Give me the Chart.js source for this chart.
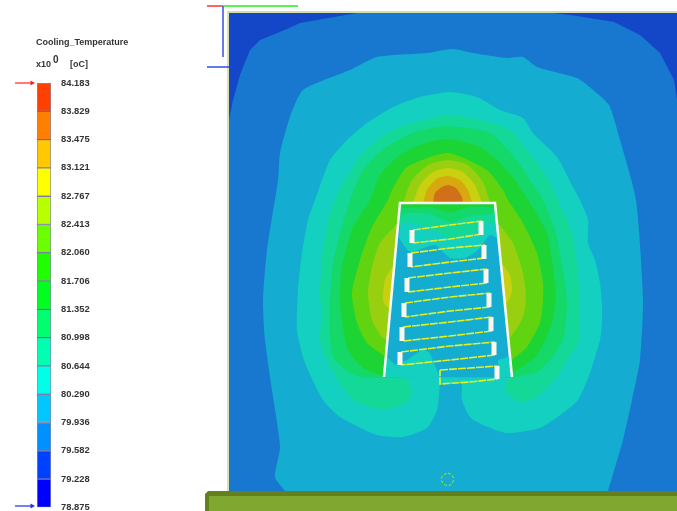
<!DOCTYPE html>
<html><head><meta charset="utf-8">
<script src="https://cdn.jsdelivr.net/npm/chart.js@4"></script>
<style>
html,body{margin:0;padding:0;background:#fff;width:677px;height:511px;overflow:hidden}
canvas{position:absolute;left:0;top:0;filter:blur(.35px)}
.t{position:absolute;font:bold 9px "Liberation Sans",sans-serif;color:#333;white-space:pre;filter:blur(.3px)}
</style></head><body>
<canvas id="field" width="677" height="511"></canvas>
<canvas id="bar" width="200" height="515"></canvas>
<div class="t" style="left:36px;top:37px">Cooling_Temperature</div>
<div class="t" style="left:36px;top:59px">x10</div>
<div class="t" style="left:53px;top:54px;font-size:10px">0</div>
<div class="t" style="left:70px;top:59px">[oC]</div>
<script>
// Colour bar
const tickValues=[84.183,83.829,83.475,83.121,82.767,82.413,82.060,81.706,81.352,80.998,80.644,80.290,79.936,79.582,79.228,78.875];
const barColors=['#ff4000','#ff8000','#ffc800','#ffff00','#b8ff00','#6cff00','#20ff00','#00ff20','#00ff70','#00ffb0','#00ffe8','#00c8ff','#0090ff','#0040ff','#0000ff'];
// Contour regions, in image-plane units, outermost first
const plateColor='#1446c8';
const plate=[[229,13],[677,13],[677,491],[229,491]];
const band1=[[229,120],[233,100],[240,75],[250,50],[260,40],[287,29],[300,23],[357,13],[553,13],[577,16],[614,22],[640,35],[660,53],[674,80],[677,100],[677,491],[229,491]];
const band2=[[285,491],[275,477],[280,447],[272,390],[265,340],[263,300],[267,250],[278,180],[280,153],[290,117],[303,90],[350,70],[377,57],[427,53],[453,49],[473,53],[507,58],[523,57],[537,67],[577,78],[587,85],[609,105],[620,140],[636,200],[643,300],[640,360],[632,400],[623,440],[608,491]];
const band3=[[440,383],[437,410],[427,428],[403,437],[377,435],[340,417],[323,400],[305,363],[297,330],[298,290],[302,253],[308,220],[315,200],[330,160],[347,140],[367,123],[393,107],[420,97],[450,92],[477,97],[500,110],[523,118],[533,133],[557,157],[573,187],[580,200],[588,220],[588,243],[595,260],[600,283],[602,303],[602,323],[600,340],[590,373],[578,400],[563,413],[540,428],[507,433],[483,425],[470,417],[462,400],[462,383]];
const band4=[[384,372],[407,380],[412,390],[407,402],[383,410],[353,400],[332,370],[320,340],[322,313],[320,297],[322,257],[328,220],[335,200],[343,183],[363,153],[387,133],[413,123],[450,115],[480,120],[510,130],[527,150],[547,177],[558,200],[572,233],[577,263],[579,290],[580,310],[578,343],[567,360],[557,377],[537,397],[520,402],[507,393],[505,383],[512,375]];
const band5=[[383,378],[367,378],[350,373],[333,357],[330,333],[330,300],[333,263],[342,227],[350,200],[363,170],[385,148],[415,132],[448,126],[490,133],[515,158],[530,180],[543,200],[555,230],[565,283],[567,307],[563,340],[550,360],[537,372],[512,378]];
const band6=[[383,376],[363,368],[348,350],[343,327],[340,300],[342,267],[353,227],[370,200],[380,175],[400,155],[425,143],[448,139],[480,147],[500,163],[515,180],[528,200],[547,233],[555,283],[555,303],[552,323],[537,355],[513,373]];
const band7=[[383,355],[367,343],[357,323],[352,293],[360,260],[372,227],[388,200],[392,190],[407,167],[448,153],[487,170],[503,190],[508,200],[523,223],[537,253],[543,283],[543,300],[540,323],[527,347],[512,360]];
const band8Left=[[398,223],[380,243],[372,267],[368,293],[372,320],[383,338],[395,338],[405,223]];
const band8Right=[[500,225],[513,243],[523,273],[526,297],[523,317],[510,337],[490,337],[490,225]];
const band8Top=[[403,203],[412,180],[428,165],[448,160],[468,165],[483,182],[490,203]];
const band9Left=[[392,267],[385,280],[383,300],[387,307],[400,307],[400,267]];
const band9Right=[[503,265],[510,275],[512,290],[507,303],[495,303],[495,265]];
const band9Top=[[413,203],[420,185],[433,172],[448,168],[463,172],[475,185],[482,203]];
const band10=[[423,203],[428,188],[438,178],[448,176],[460,180],[468,190],[472,203]];
const band11=[[433,203],[435,193],[442,187],[448,185],[456,188],[462,197],[463,203]];
const bandColors=['#1878d0','#14acd0','#14d0c0','#14d898','#14d868','#1cd434','#60d410','#98d010','#c8d010','#d8a810','#d07018'];
// Inside the housing
const housing=[[384,377],[400,203],[495,203],[512,377]];
const inner3=[[401,204],[494,204],[498,238],[490,235],[478,250],[465,258],[450,258],[435,245],[410,252],[399,238]];
const inner4=[[401,204],[494,204],[497,225],[488,222],[470,235],[450,238],[430,228],[410,222],[400,225]];
const inner5=[[401,204],[494,204],[496,213],[470,216],[450,222],[430,214],[405,213],[400,218]];
const inner6=[[401,204],[494,204],[495,207],[470,207],[450,212],[430,207],[402,208]];
const innerLowLeft=[[384,377],[387,357],[395,365],[407,360],[423,349],[430,353],[440,378]];
const innerLowRight=[[498,377],[498,360],[508,357],[512,377]];
// Coil loops: left-top, right-top, right-bottom, left-bottom
const coils=[
 [[413,230],[450,225],[482,221],[482,234],[450,239],[413,243]],
 [[411,253],[450,248],[485,245],[485,258],[450,262],[411,267]],
 [[408,278],[450,273],[487,269],[487,283],[450,287],[408,292]],
 [[405,303],[450,297],[490,293],[490,307],[450,311],[405,317]],
 [[403,327],[450,322],[492,317],[492,331],[450,336],[403,341]],
 [[401,352],[450,346],[495,342],[495,355],[450,360],[401,365]],
 [[440,370],[470,368],[497,366],[497,379],[470,382],[440,384],[440,370]]
];
const caps=[
 [[412,230],[412,243]],[[481,221],[481,235]],
 [[410,253],[410,267]],[[484,245],[484,259]],
 [[407,278],[407,292]],[[486,269],[486,283]],
 [[404,303],[404,317]],[[489,293],[489,307]],
 [[402,327],[402,341]],[[491,317],[491,331]],
 [[400,352],[400,365]],[[494,342],[494,355]],
 [[497,366],[497,379]]
];
const housingLine=[[384,377],[400,203],[495,203],[512,377]];
const gateRing=[[448,473],[452,475],[454,479],[452,484],[448,486],[443,484],[441,479],[443,475],[448,473]];
const frameLine=[[677,12],[228,12],[228,491]];
const noteOuter=[[205,494],[208,491],[677,491],[677,511],[205,511]];
const noteInner=[[209,496],[677,496],[677,511],[209,511]];
const axisRed=[[207,6],[222,6]];
const axisGreen=[[222,6],[298,6]];
const axisBlueV=[[223,6],[223,57]];
const axisBlueH=[[207,67],[237,67]];
const arrowMax=[[15,83],[32,83]];
const arrowMin=[[15,506],[32,506]];

const layers=[];
const poly=(d,c,t)=>layers.push({data:d,fill:'shape',backgroundColor:c,borderWidth:0,borderColor:c,pointRadius:0,tension:t||0});
const line=(d,c,w,dash)=>layers.push({data:d,fill:false,borderColor:c,borderWidth:w,borderDash:dash||[],pointRadius:0,borderCapStyle:'butt',tension:0});
const arrow=(d,c)=>layers.push({data:d,fill:false,borderColor:c,borderWidth:1.2,pointRadius:[0,3],pointStyle:'triangle',pointRotation:90,pointBackgroundColor:c,pointBorderWidth:0,tension:0});

poly(plate,plateColor);
[band1,band2,band3,band4,band5,band6,band7].forEach((b,i)=>poly(b,bandColors[i],i>0?.2:0));
[band8Left,band8Right,band8Top].forEach(b=>poly(b,bandColors[7],.2));
[band9Left,band9Right,band9Top].forEach(b=>poly(b,bandColors[8],.2));
poly(band10,bandColors[9],.2);poly(band11,bandColors[10],.2);
poly(housing,bandColors[1]);
poly(inner3,bandColors[2],.2);poly(inner4,bandColors[3],.2);poly(inner5,bandColors[4],.2);poly(inner6,bandColors[5],.2);
poly(innerLowLeft,bandColors[2]);poly(innerLowRight,bandColors[2]);
coils.forEach((c,i)=>{ line(i<6?c.slice(0,3):c,'#e6f01e',1.6,[8,1]); if(i<6) line(c.slice(3),'#e6f01e',1.6,[8,1]); });
caps.forEach(c=>line(c,'#f8f8ec',5));
line(housingLine,'#f6f8f6',2.6);
line(gateRing,'#a4e040',1,[3,2]);
line(frameLine,'#c8d48c',1.4);
poly(noteOuter,'#64801c');poly(noteInner,'#80a830');
line(axisRed,'#ff2020',1.4);line(axisGreen,'#20f020',1.4);
line(axisBlueV,'#3040e0',1.4);line(axisBlueH,'#2040e0',1.4);
arrow(arrowMax,'#ff2020');arrow(arrowMin,'#2030e0');
layers.forEach((l,i)=>{l.order=layers.length-i;});

new Chart(document.getElementById('field'),{
 type:'line',
 data:{datasets:layers},
 options:{responsive:false,animation:false,events:[],
  layout:{padding:0,autoPadding:false},
  plugins:{legend:{display:false},tooltip:{enabled:false},title:{display:false}},
  scales:{x:{type:'linear',min:0,max:677,display:false},y:{type:'linear',min:0,max:511,reverse:true,display:false}}
 }
});

const barSets=barColors.map((c,i)=>({data:[[tickValues[i+1],tickValues[i]]],backgroundColor:c,borderColor:'rgba(40,40,110,.55)',borderWidth:1,borderSkipped:false,barPercentage:1,categoryPercentage:1,grouped:false}));
new Chart(document.getElementById('bar'),{
 type:'bar',
 data:{labels:['T'],datasets:barSets},
 options:{responsive:false,animation:false,events:[],
  layout:{padding:{left:37,top:83,bottom:5,right:0}},
  plugins:{legend:{display:false},tooltip:{enabled:false}},
  scales:{
   x:{display:false},
   y:{position:'right',min:78.875,max:84.183,
      afterBuildTicks:a=>{a.ticks=tickValues.map(v=>({value:v}));},
      afterFit:a=>{a.width=149;},
      grid:{display:false},border:{display:false},
      ticks:{autoSkip:false,padding:2,color:'#333',font:{family:'Liberation Sans',weight:'bold',size:9.4},callback:v=>v.toFixed(3)}}
  }
 }
});
</script>
</body></html>
